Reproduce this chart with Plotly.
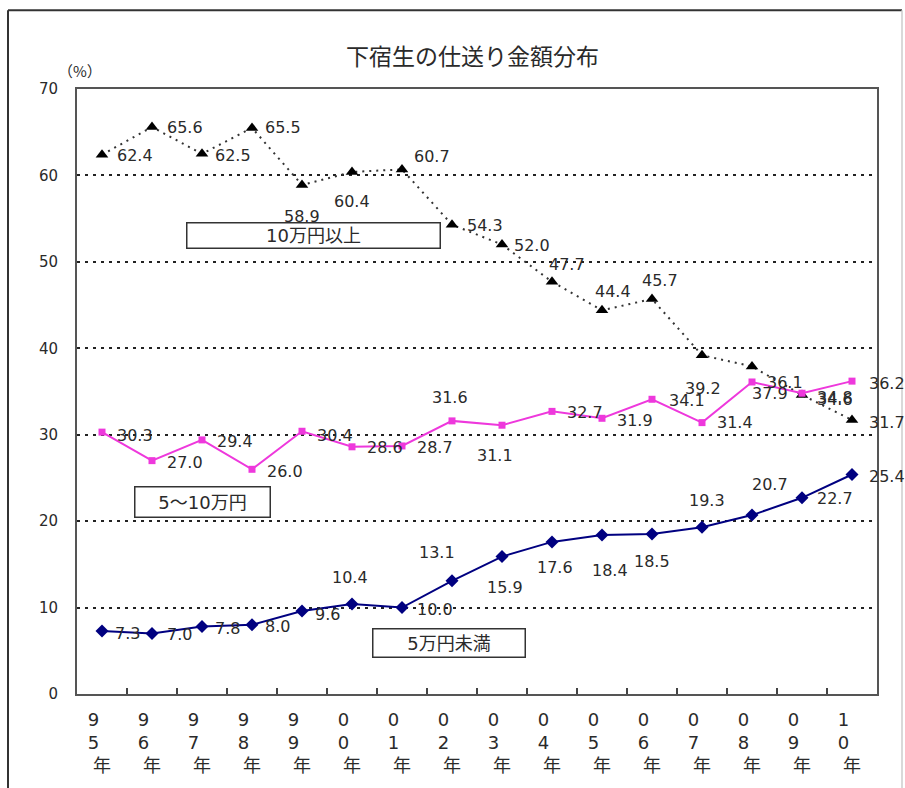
import plotly.graph_objects as go

# ---- data ----
years = ["95", "96", "97", "98", "99", "00", "01", "02", "03", "04", "05", "06", "07", "08", "09", "10"]
over_100k = [62.4, 65.6, 62.5, 65.5, 58.9, 60.4, 60.7, 54.3, 52.0, 47.7, 44.4, 45.7, 39.2, 37.9, 34.6, 31.7]
from_50k_to_100k = [30.3, 27.0, 29.4, 26.0, 30.4, 28.6, 28.7, 31.6, 31.1, 32.7, 31.9, 34.1, 31.4, 36.1, 34.8, 36.2]
under_50k = [7.3, 7.0, 7.8, 8.0, 9.6, 10.4, 10.0, 13.1, 15.9, 17.6, 18.4, 18.5, 19.3, 20.7, 22.7, 25.4]
series_names = ["10万円以上", "5〜10万円", "5万円未満"]
title_text = "下宿生の仕送り金額分布"
unit_text = "（%）"
year_suffix = "年"

# ---- label placement (anchor, dx px, dy px down) ----
upper_pos = [("l", 13, 1), ("l", 13, 0), ("l", 11, 2), ("l", 11, 0), ("c", 0, 32), ("c", 0, 30),
             ("c", 30, -13), ("l", 13, 1), ("l", 10, 1), ("c", 15, -17), ("c", 11, -19), ("c", 8, -19),
             ("c", 1, 33), ("c", 18, 27), ("l", 13, 5), ("l", 15, 2)]
mid_pos = [("l", 13, 3), ("l", 13, 2), ("l", 13, 2), ("l", 13, 2), ("l", 13, 4), ("l", 13, 1),
           ("l", 13, 2), ("c", -2, -23), ("c", -7, 30), ("l", 13, 1), ("l", 13, 2), ("l", 15, 1),
           ("l", 13, 0), ("l", 13, 1), ("l", 13, 4), ("l", 15, 2)]
low_pos = [("l", 11, 3), ("l", 13, 1), ("l", 11, 2), ("l", 11, 2), ("l", 11, 3), ("c", -2, -27),
           ("l", 13, 2), ("c", -15, -28), ("c", 3, 31), ("c", 3, 26), ("c", 8, 36), ("c", 0, 27),
           ("c", 5, -27), ("c", 18, -31), ("l", 13, 1), ("l", 15, 2)]

NUM_FONT = "DejaVu Sans, Noto Sans CJK JP"
JP_FONT = "Noto Sans CJK JP"
TXT = "#2a2a2a"

W, H = 905, 788
L, R, T, B = 77, 877, 89, 703


def px(xp):
    return (xp - L) / (R - L)


def py(yp):
    return (B - yp) / (B - T)


fig = go.Figure()

fig.add_trace(go.Scatter(
    x=years, y=over_100k, mode="lines+markers", name=series_names[0],
    line=dict(color="#333333", width=2, dash="2px,5px"),
    marker=dict(symbol="triangle-up", size=11, color="black"),
))
fig.add_trace(go.Scatter(
    x=years, y=from_50k_to_100k, mode="lines+markers", name=series_names[1],
    line=dict(color="#EE38DC", width=2),
    marker=dict(symbol="square", size=7, color="#EE38DC"),
))
fig.add_trace(go.Scatter(
    x=years, y=under_50k, mode="lines+markers", name=series_names[2],
    line=dict(color="#000080", width=2),
    marker=dict(symbol="diamond", size=10, color="#000080"),
))

annotations = []
for vals, poss in ((over_100k, upper_pos), (from_50k_to_100k, mid_pos), (under_50k, low_pos)):
    for i, (v, (anc, dx, dy)) in enumerate(zip(vals, poss)):
        annotations.append(dict(
            x=i, y=v, xref="x", yref="y", text=f"{v:.1f}", showarrow=False,
            xanchor="left" if anc == "l" else "center", yanchor="middle",
            xshift=dx, yshift=-dy,
            font=dict(family=NUM_FONT, size=16, color=TXT),
        ))

# series name boxes
boxes = [(series_names[0], 186, 440, 225, 251),
         (series_names[1], 134, 270, 493, 524),
         (series_names[2], 372, 525, 637, 666)]
for text, x0, x1, y0, y1 in boxes:
    annotations.append(dict(
        x=px((x0 + x1) / 2), y=py((y0 + y1) / 2), xref="paper", yref="paper",
        text=text, showarrow=False, xanchor="center", yanchor="middle",
        width=x1 - x0 - 2, height=y1 - y0 - 2, borderpad=0,
        bordercolor="#333333", borderwidth=1.5, bgcolor="white",
        font=dict(family=NUM_FONT, size=18, color=TXT),
    ))

# title and unit
annotations.append(dict(x=px(472), y=py(55), xref="paper", yref="paper", text=title_text,
                        showarrow=False, xanchor="center", yanchor="middle",
                        font=dict(family=JP_FONT, size=23, color=TXT)))
annotations.append(dict(x=px(80), y=py(70), xref="paper", yref="paper", text=unit_text,
                        showarrow=False, xanchor="center", yanchor="middle",
                        font=dict(family=JP_FONT, size=15, color=TXT)))

tick_text = [y[0] + "\u00a0\u00a0\u00a0<br>" + y[1] + "\u00a0\u00a0\u00a0<br>" + year_suffix for y in years]

shapes = [
    dict(type="line", xref="paper", yref="paper", x0=px(8), x1=px(8), y0=py(9), y1=py(800),
         line=dict(color="#333333", width=2)),
    dict(type="line", xref="paper", yref="paper", x0=px(8), x1=px(902), y0=py(9), y1=py(9),
         line=dict(color="#333333", width=2)),
    dict(type="line", xref="paper", yref="paper", x0=px(902), x1=px(902), y0=py(9), y1=py(800),
         line=dict(color="#cccccc", width=1.5)),
]

fig.update_layout(
    width=W, height=H,
    margin=dict(l=L, r=W - R, t=T, b=H - B),
    paper_bgcolor="white", plot_bgcolor="white",
    showlegend=False,
    annotations=annotations,
    shapes=shapes,
    xaxis=dict(
        type="category", categoryorder="array", categoryarray=years,
        range=[-0.5, len(years) - 0.5],
        tickmode="array", tickvals=years, ticktext=tick_text,
        tickson="boundaries", ticks="inside", ticklen=6, tickwidth=2, tickcolor="#444444",
        showgrid=False, showline=True, linecolor="#555555", linewidth=2, mirror=True,
        tickfont=dict(family=NUM_FONT, size=18, color=TXT),
        ticklabelstandoff=8,
    ),
    yaxis=dict(
        range=[0, 70], tick0=0, dtick=10, ticks="",
        showgrid=True, gridcolor="#222222", gridwidth=2, griddash="3px,5px",
        zeroline=False, showline=True, linecolor="#555555", linewidth=2, mirror=True,
        tickfont=dict(family=NUM_FONT, size=15, color=TXT),
        ticklabelstandoff=14,
    ),
)

fig.write_html("out.html")
